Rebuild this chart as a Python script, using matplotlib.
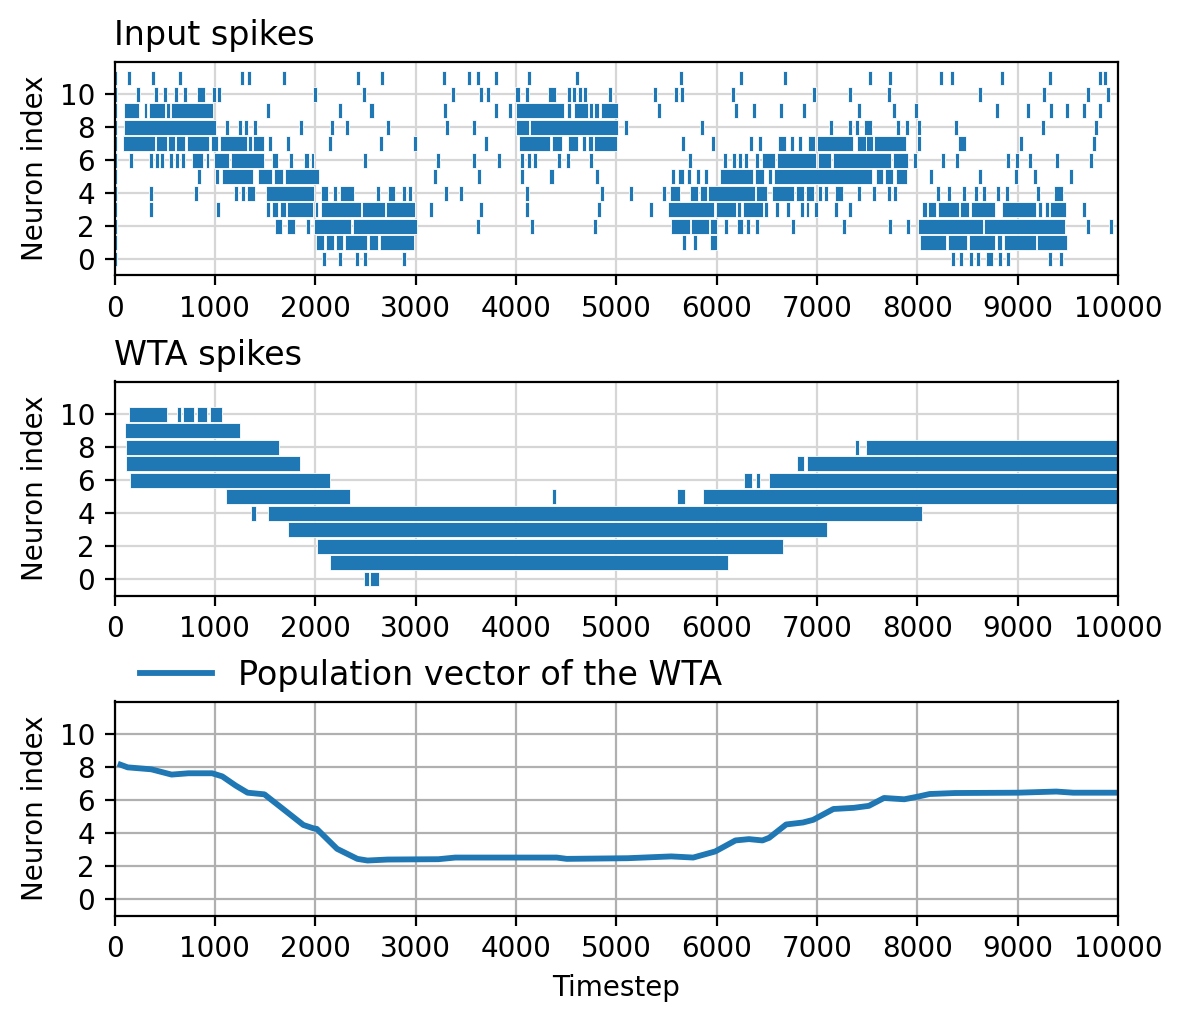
import matplotlib
matplotlib.use("Agg")
import matplotlib.pyplot as plt

# ---------------- Input spikes (single spike times and burst intervals per neuron)
in_spikes_11 = [0, 143, 380, 649, 1272, 1342, 1688, 2428, 2661, 3280, 3530, 3620, 3800, 4126, 4605,
                5645, 6240, 6677, 7533, 7732, 8239, 8350, 8844, 9321, 9818, 9872]
in_bursts_11 = []
in_spikes_10 = [0, 230, 416, 500, 609, 699, 989, 1039, 2001, 2491, 3377, 3656, 3726, 4016, 4106, 4529,
                4582, 4639, 4685, 4935, 5390, 5595, 5655, 6163, 6966, 7332, 7722, 8629, 9264, 9700, 9899]
in_bursts_10 = [(826, 899), (4319, 4396)]
in_spikes_9 = [0, 1528, 2244, 2561, 3297, 3800, 3939, 5423, 6189, 6371, 6640, 6868, 7423, 7772, 7984,
               8790, 9106, 9334, 9492, 9664, 9818]
in_bursts_9 = [(93, 240), (289, 322), (339, 503), (516, 549), (563, 979), (3999, 4476), (4509, 4549),
               (4579, 4715), (4729, 4765), (4782, 4832), (4848, 5017)]
in_spikes_8 = [0, 1119, 1249, 1309, 1399, 1861, 2168, 2318, 2727, 3310, 3586, 5101, 5857, 7144, 7328,
               7396, 7809, 7900, 8021, 8387, 9254, 9785]
in_bursts_8 = [(93, 1009), (3999, 4126), (4139, 5017), (7470, 7544)]
in_spikes_7 = [0, 1552, 1728, 2148, 2651, 2994, 3700, 5665, 5961, 6344, 6428, 6747, 6831, 8021, 9035, 9761]
in_bursts_7 = [(80, 403), (413, 520), (533, 603), (613, 703), (723, 942), (962, 1032), (1052, 1319),
               (1332, 1369), (1379, 1492), (4033, 4339), (4359, 4456), (4522, 4619), (4662, 4702),
               (4719, 4765), (4779, 5007), (6616, 6687), (6912, 6979), (6999, 7362), (7396, 7486),
               (7493, 7557), (7567, 7883), (8410, 8488)]
in_spikes_6 = [0, 163, 363, 420, 470, 563, 623, 683, 1758, 2501, 3227, 3586, 3836, 4056, 4126, 4186,
               4426, 4516, 4745, 5732, 6082, 6173, 6233, 6290, 6401, 7974, 8253, 8397, 8904, 8995,
               9119, 9395, 9731]
in_bursts_6 = [(776, 886), (912, 939), (992, 1139), (1162, 1489), (1565, 1628), (1885, 1941),
               (1961, 1985), (6455, 6583), (6603, 6986), (7013, 7144), (7160, 7742), (7755, 7910)]
in_spikes_5 = [0, 839, 1019, 3197, 3636, 4056, 4805, 5568, 5726, 5816, 5894, 8132, 8629, 8985, 9173, 9529]
in_bursts_5 = [(1076, 1379), (1432, 1568), (1592, 1675), (1702, 2038), (4332, 4376), (5615, 5672),
               (6038, 6364), (6378, 6468), (6515, 6552), (6572, 7550), (7591, 7658), (7675, 7759),
               (7789, 7900)]
in_spikes_4 = [0, 363, 812, 1209, 1282, 2201, 2627, 2880, 2940, 3300, 3456, 4112, 4855, 5151, 5477,
               7030, 7087, 7423, 7564, 7715, 7782, 8209, 8320, 8467, 8585, 8666, 8807, 8891, 9203]
in_bursts_4 = [(1325, 1399), (1512, 1988), (2058, 2128), (2244, 2384), (2724, 2797), (5538, 5635),
               (5732, 5816), (5830, 5900), (5917, 6384), (6394, 6499), (6556, 6771), (6794, 6872),
               (6892, 6969), (7181, 7255), (9358, 9455)]
in_spikes_3 = [0, 363, 1029, 3157, 3656, 4106, 4829, 5346, 6599, 6710, 6986, 7187, 7325, 9664]
in_bursts_3 = [(1508, 1552), (1565, 1628), (1645, 1708), (1722, 1978), (1995, 2031), (2061, 2461),
               (2471, 2694), (2707, 2990), (5517, 5974), (5995, 6193), (6206, 6240), (6263, 6462),
               (6476, 6509), (6835, 6872), (6888, 6925), (8047, 8095), (8111, 8189), (8202, 8420),
               (8430, 8518), (8531, 8777), (8847, 9187), (9207, 9244), (9277, 9311), (9324, 9486)]
in_spikes_2 = [0, 1931, 3626, 4156, 4785, 6092, 6310, 6401, 6761, 7265, 7732, 7910, 9700, 9929]
in_bursts_2 = [(1600, 1670), (1720, 1800), (1988, 2361), (2381, 3017), (5548, 5736), (5749, 5924),
               (5937, 6001), (6200, 6260), (8004, 8659), (8669, 9472)]
in_spikes_1 = [0, 5675, 5786]
in_bursts_1 = [(2011, 2085), (2111, 2188), (2211, 2278), (2301, 2517), (2541, 2624), (2647, 2987),
               (5937, 6008), (8024, 8289), (8310, 8498), (8511, 8777), (8797, 8844), (8864, 9183),
               (9197, 9492)]
in_spikes_0 = [0, 2088, 2248, 2418, 2498, 2887, 8357, 8437, 8538, 8605, 8820, 8904, 9327, 9429]
in_bursts_0 = [(8683, 8757)]

input_spikes = [in_spikes_0, in_spikes_1, in_spikes_2, in_spikes_3, in_spikes_4, in_spikes_5,
                in_spikes_6, in_spikes_7, in_spikes_8, in_spikes_9, in_spikes_10, in_spikes_11]
input_bursts = [in_bursts_0, in_bursts_1, in_bursts_2, in_bursts_3, in_bursts_4, in_bursts_5,
                in_bursts_6, in_bursts_7, in_bursts_8, in_bursts_9, in_bursts_10, in_bursts_11]

# ---------------- WTA spikes (burst intervals per neuron)
wta_bursts_10 = [(143, 519), (623, 659), (679, 793), (822, 922), (952, 1072)]
wta_bursts_9 = [(103, 1252)]
wta_bursts_8 = [(113, 1642), (7376, 7416), (7486, 10000)]
wta_bursts_7 = [(113, 1851), (6801, 6872), (6898, 10000)]
wta_bursts_6 = [(153, 2151), (6273, 6354), (6394, 6431), (6522, 10000)]
wta_bursts_5 = [(1112, 2351), (4356, 4399), (5608, 5686), (5867, 10000)]
wta_bursts_4 = [(1362, 1412), (1532, 8044)]
wta_bursts_3 = [(1732, 7100)]
wta_bursts_2 = [(2021, 6660)]
wta_bursts_1 = [(2151, 6116)]
wta_bursts_0 = [(2491, 2537), (2551, 2631)]
wta_bursts = [wta_bursts_0, wta_bursts_1, wta_bursts_2, wta_bursts_3, wta_bursts_4, wta_bursts_5,
              wta_bursts_6, wta_bursts_7, wta_bursts_8, wta_bursts_9, wta_bursts_10]

# ---------------- Population vector
pv_t = [60, 131, 367, 569, 737, 973, 1074, 1208, 1326, 1494, 1680, 1882, 1980, 2016, 2218, 2420,
        2521, 2723, 3228, 3396, 4406, 4507, 5113, 5548, 5767, 5986, 6188, 6322, 6457, 6524, 6693,
        6861, 6962, 7164, 7366, 7517, 7668, 7870, 8005, 8123, 8375, 9004, 9385, 9553, 10000]
pv_val = [8.16, 8.0, 7.88, 7.56, 7.64, 7.64, 7.45, 6.89, 6.46, 6.36, 5.47, 4.5, 4.3, 4.26, 3.05,
          2.44, 2.34, 2.4, 2.42, 2.52, 2.52, 2.44, 2.48, 2.59, 2.52, 2.89, 3.56, 3.64, 3.56, 3.72,
          4.53, 4.65, 4.81, 5.47, 5.54, 5.66, 6.14, 6.06, 6.22, 6.38, 6.44, 6.46, 6.53, 6.46, 6.46]

xticks = list(range(0, 10001, 1000))
yticks = list(range(0, 11, 2))

BLUE = "#1f77b4"
SPIKE_W = 40
ROW_H = 0.9

W, H = 1183, 1022
fig = plt.figure(figsize=(W / 200, H / 200), dpi=200)
plt.rcParams["font.size"] = 10

left = 114.5 / W
width = (1118 - 114.5) / W
ah = 214.0 / H


def make_ax(top_px):
    return fig.add_axes([left, 1 - (top_px + 214.0) / H, width, ah])


def style(ax, light=True):
    ax.set_xlim(0, 10000)
    ax.set_ylim(-1, 12)
    ax.set_xticks(xticks)
    ax.set_yticks(yticks)
    ax.set_axisbelow(True)
    ax.grid(True, color="#d6d6d6" if light else "#b0b0b0", linewidth=0.8)
    ax.set_ylabel("Neuron index", fontsize=10)
    ax.tick_params(labelsize=10)


ax1 = make_ax(61.5)
for n in range(len(input_spikes)):
    items = [(t - SPIKE_W / 2, SPIKE_W) for t in input_spikes[n]]
    items += [(a, b - a) for (a, b) in input_bursts[n]]
    ax1.broken_barh(items, (n - ROW_H / 2, ROW_H), facecolor=BLUE, edgecolor="white", linewidth=0.3)
style(ax1)
ax1.set_title("Input spikes", loc="left", fontsize=12)

ax2 = make_ax(381.5)
for n in range(len(wta_bursts)):
    items = [(a, b - a) for (a, b) in wta_bursts[n]]
    ax2.broken_barh(items, (n - ROW_H / 2, ROW_H), facecolor=BLUE, edgecolor="white", linewidth=0.3)
style(ax2)
ax2.set_title("WTA spikes", loc="left", fontsize=12)

ax3 = make_ax(701.5)
ax3.plot(pv_t, pv_val, color=BLUE, linewidth=2.1, label="Population vector of the WTA")
style(ax3, light=False)
ax3.set_xlabel("Timestep", fontsize=10)
ax3.legend(loc="center left", bbox_to_anchor=((140 - 114.5) / 1003.5, 1 + (701.5 - 675) / 214.0),
           frameon=False, fontsize=12, borderpad=0, borderaxespad=0, handlelength=2.15)

fig.savefig("out.png", dpi=200)
